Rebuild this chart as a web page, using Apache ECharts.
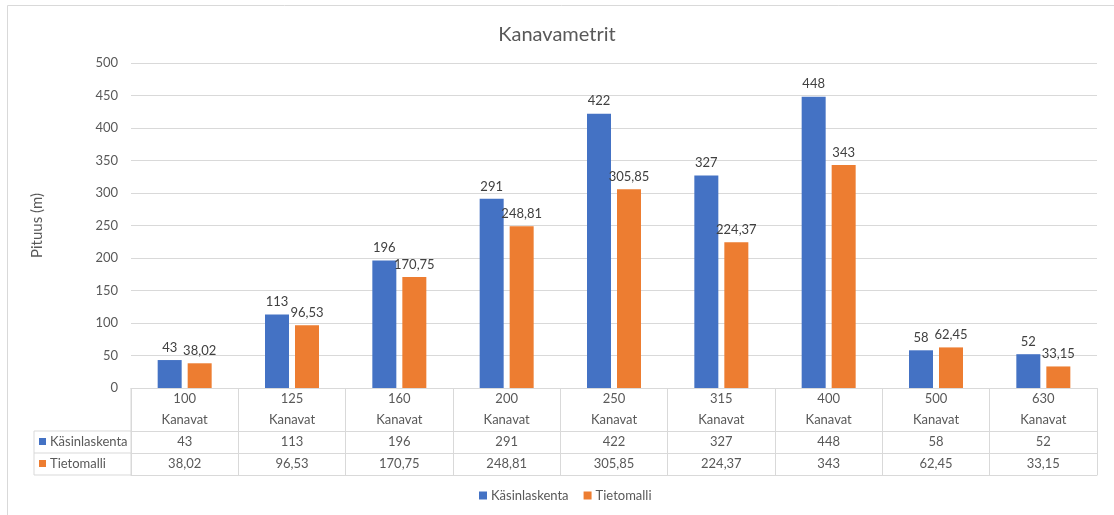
<!DOCTYPE html>
<html>
<head>
<meta charset="utf-8">
<script src="https://cdn.jsdelivr.net/npm/echarts@6/dist/echarts.min.js"></script>
<style>
  html, body { margin: 0; padding: 0; background: #fff; }
  #chart { width: 1114px; height: 515px; }
</style>
</head>
<body>
<div id="chart"></div>
<script>
// chart data
var categories = ['100', '125', '160', '200', '250', '315', '400', '500', '630'];
var categorySuffix = 'Kanavat';
var seriesNames = ['Käsinlaskenta', 'Tietomalli'];
var kasinlaskenta = [43, 113, 196, 291, 422, 327, 448, 58, 52];
var tietomalli = [38.02, 96.53, 170.75, 248.81, 305.85, 224.37, 343, 62.45, 33.15];
var yTicks = { min: 0, max: 500, interval: 50 };

var colors = ['#4472C4', '#ED7D31'];
var FONT = 'Lato';
var textGray = '#595959';
var lineGray = '#d9d9d9';

function fmt(v) {
    return String(v).replace('.', ',');
}

var gridLeft = 131, gridTop = 63, gridRight = 17, gridBottom = 127;

var myChart = echarts.init(document.getElementById('chart'));

var rowAxis = function (values, offset) {
    return {
        type: 'category',
        data: categories,
        position: 'bottom',
        offset: offset,
        axisLine: { show: true, lineStyle: { color: lineGray } },
        axisTick: { show: false },
        axisLabel: {
            show: values != null,
            margin: 4,
            color: textGray,
            fontFamily: FONT,
            fontSize: 13,
            formatter: function (v, i) { return values ? fmt(values[i]) : ''; }
        }
    };
};

myChart.setOption({
    animation: false,
    color: colors,
    title: {
        text: 'Kanavametrit',
        left: 'center',
        top: 20,
        textStyle: { color: textGray, fontFamily: FONT, fontSize: 20, fontWeight: 'normal' }
    },
    legend: {
        bottom: 8,
        left: 474,
        itemWidth: 8,
        itemHeight: 8,
        itemGap: 15,
        icon: 'rect',
        textStyle: { color: textGray, fontFamily: FONT, fontSize: 13, padding: [0, 0, 0, -1] },
        data: seriesNames
    },
    grid: { left: gridLeft, top: gridTop, right: gridRight, bottom: gridBottom, containLabel: false },
    xAxis: [
        {
            type: 'category',
            data: categories,
            position: 'bottom',
            axisLine: { show: true, lineStyle: { color: lineGray } },
            axisTick: { show: true, length: 87, lineStyle: { color: lineGray } },
            axisLabel: {
                margin: 0,
                formatter: function (v) { return '{a|' + v + '}\n{a|' + categorySuffix + '}'; },
                rich: { a: { color: textGray, fontFamily: FONT, fontSize: 13, lineHeight: 21 } }
            }
        },
        rowAxis(kasinlaskenta, 43),
        rowAxis(tietomalli, 65),
        rowAxis(null, 87)
    ],
    yAxis: {
        type: 'value',
        min: yTicks.min,
        max: yTicks.max,
        interval: yTicks.interval,
        name: 'Pituus (m)',
        nameLocation: 'middle',
        nameGap: 86,
        nameTextStyle: { color: textGray, fontFamily: FONT, fontSize: 15 },
        axisLine: { show: false },
        axisTick: { show: false },
        axisLabel: { color: textGray, fontFamily: FONT, fontSize: 13, margin: 13 },
        splitLine: { lineStyle: { color: lineGray } }
    },
    series: [
        {
            name: seriesNames[0],
            type: 'bar',
            data: kasinlaskenta,
            barWidth: 24,
            barGap: '25%',
            label: {
                show: true, position: 'top', distance: 6,
                color: '#404040', fontFamily: FONT, fontSize: 13,
                formatter: function (p) { return fmt(p.value); }
            }
        },
        {
            name: seriesNames[1],
            type: 'bar',
            data: tietomalli,
            barWidth: 24,
            label: {
                show: true, position: 'top', distance: 6,
                color: '#404040', fontFamily: FONT, fontSize: 13,
                formatter: function (p) { return fmt(p.value); }
            }
        }
    ]
});

// left header of the data table + outer border
var y0 = 515 - gridBottom;
var rowY = [y0 + 43, y0 + 65, y0 + 87];
var headX = 34;
var graphics = [
    { type: 'rect', shape: { x: 7.5, y: 5.5, width: 1200, height: 600 }, style: { fill: 'none', stroke: lineGray, lineWidth: 1 }, silent: true },
    { type: 'line', shape: { x1: headX, y1: rowY[0], x2: headX, y2: rowY[2] }, style: { stroke: lineGray } },
    { type: 'line', shape: { x1: gridLeft, y1: y0, x2: gridLeft, y2: rowY[2] }, style: { stroke: lineGray } }
];
rowY.forEach(function (y) {
    graphics.push({ type: 'line', shape: { x1: headX, y1: y, x2: gridLeft, y2: y }, style: { stroke: lineGray } });
});
seriesNames.forEach(function (name, i) {
    var cy = (rowY[i] + rowY[i + 1]) / 2;
    graphics.push({ type: 'rect', shape: { x: headX + 5, y: cy - 4, width: 7, height: 7 }, style: { fill: colors[i] } });
    graphics.push({ type: 'text', x: headX + 16, y: cy, style: { text: name, fill: textGray, font: '13px ' + FONT, textVerticalAlign: 'middle' } });
});
myChart.setOption({ graphic: graphics });
</script>
</body>
</html>
